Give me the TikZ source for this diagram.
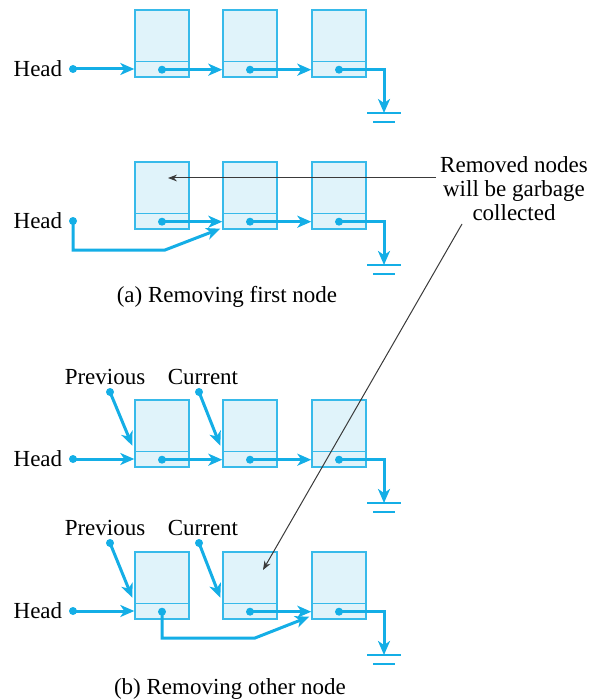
\documentclass[tikz,border=0pt]{standalone}
\usepackage{fontspec}
\setmainfont{Liberation Serif}
\usepackage{tikz}
\usetikzlibrary{arrows.meta,positioning,calc}
\definecolor{cyanline}{HTML}{14AEE6}
\definecolor{cellfill}{HTML}{E0F3FA}
\definecolor{notegray}{HTML}{3A3A3A}

\begin{document}
\begin{tikzpicture}[x=0.5pt,y=-0.5pt,
  cell/.style={draw=cyanline!85,fill=cellfill,line width=0.7pt,minimum width=27pt,minimum height=33.5pt,inner sep=0pt},
  link/.style={cyanline,line width=1.5pt,-{Stealth[length=7pt,width=6pt,inset=2pt]}},
  ptr/.style={fill=cyanline,circle,inner sep=0pt,minimum size=4pt},
  lbl/.style={font=\fontsize{11.5}{12}\selectfont,inner sep=0pt},
  note/.style={notegray,line width=0.5pt,-{Stealth[length=4.5pt,width=3.4pt]}},
  gnd/.style={cyanline,line width=1pt}]
  \useasboundingbox (0,0) rectangle (590,700);
  % four lists of three cells, each ending in a ground
  \foreach \r/\t in {1/10,2/162,3/400,4/552}{
    \foreach \c/\x in {1/135,2/223,3/312}{
      \node[cell] (n\r\c) at (\x+27,\t+33.5) {};
      \draw[cyanline!85,line width=0.7pt] ([yshift=8pt]n\r\c.south west) -- ([yshift=8pt]n\r\c.south east);
      \node[ptr] (p\r\c) at ([yshift=4pt]n\r\c.south) {};}
    \node[ptr] (h\r) at (73,\t+59) {};
    \node[lbl,left=3pt of h\r] {Head};
    \coordinate (g\r) at (384,\t+103);
    \draw[link] (p\r3.center) -| (g\r);
    \draw[gnd] ($(g\r)+(-17,0)$) -- ++(34,0);
    \draw[gnd] ($(g\r)+(-11,9)$) -- ++(22,0);}

  % (a) before and after removing the first cell
  \draw[link] (h1.center) -- (n11.west |- h1);
  \draw[link] (p11.center) -- (n12.west |- p11);
  \draw[link] (p12.center) -- (n13.west |- p12);
  \coordinate (b2) at (165,250);
  \draw[link] (h2.center) |- (b2) -- ([xshift=-1pt,yshift=0.5pt]n22.south west);
  \draw[link] (p21.center) -- (n22.west |- p21);
  \draw[link] (p22.center) -- (n23.west |- p22);
  \node[lbl] (capa) at (227,297) {(a) Removing first node};

  % note on the removed cells
  \node[lbl,align=center] (gc) at (514,189) {Removed nodes\\will be garbage\\collected};
  \coordinate (na) at (436,178);
  \coordinate (ta) at (168,178);
  \draw[note] (na) -- (ta);
  \coordinate (nb) at (462,224);
  \coordinate (tb) at (263,570);
  \draw[note] (nb) -- (tb);

  % (b) before and after removing a middle cell
  \foreach \r/\y in {3/377,4/528}{
    \node[lbl] (prev\r) at (105,\y) {Previous};
    \node[lbl] (cur\r) at (203,\y) {Current};
    \node[ptr] (q\r) at (110,\y+15) {};
    \node[ptr] (c\r) at (199,\y+15) {};
    \draw[link] (q\r.center) -- ([xshift=-1pt,yshift=11pt]n\r1.south west);
    \draw[link] (c\r.center) -- ([xshift=-1pt,yshift=11pt]n\r2.south west);
    \draw[link] (h\r.center) -- (n\r1.west |- h\r);}
  \draw[link] (p31.center) -- (n32.west |- p31);
  \draw[link] (p32.center) -- (n33.west |- p32);
  \coordinate (b4) at (255,638);
  \draw[link] (p41.center) |- (b4) -- ([xshift=-1pt,yshift=1.5pt]n43.south west);
  \draw[link] (p42.center) -- (n43.west |- p42);
  \node[lbl] (capb) at (230,689) {(b) Removing other node};
\end{tikzpicture}
\end{document}
